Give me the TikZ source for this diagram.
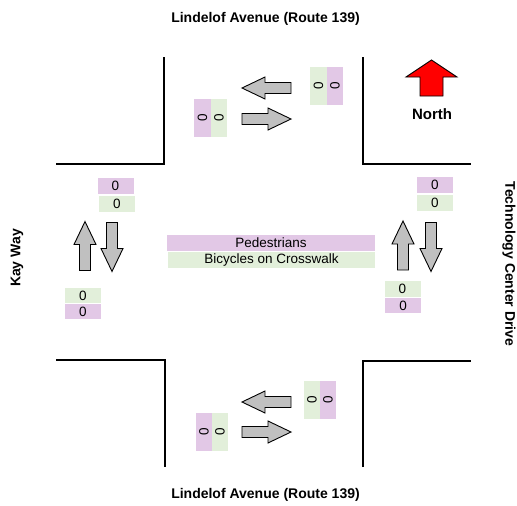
\documentclass[tikz,border=0pt]{standalone}
\usepackage{fontspec}
\setmainfont{Liberation Sans}
\begin{document}
\begin{tikzpicture}[x=1pt,y=-1pt,
  road/.style={line width=2.6pt},
  ped/.style={fill=pedc, inner sep=0pt, font=\fontsize{13.5}{13.5}\selectfont},
  bik/.style={fill=bikc, inner sep=0pt, font=\fontsize{13.5}{13.5}\selectfont},
  vbox/.style={minimum width=38pt, minimum height=16.5pt, rotate=90},
  hbox/.style={minimum width=36pt, minimum height=15.5pt},
  lbl/.style={font=\bfseries\fontsize{14}{14}\selectfont, inner sep=0pt},
  garrow/.pic={\draw[fill=arrgray, line width=0.9pt, line join=miter]
     (-24.5,-5.5) -- (1.5,-5.5) -- (1.5,-11) -- (24.5,0) -- (1.5,11) -- (1.5,5.5) -- (-24.5,5.5) -- cycle;}
]
\definecolor{pedc}{HTML}{E2C8E6}
\definecolor{bikc}{HTML}{E2EFDA}
\definecolor{arrgray}{HTML}{C0C0C0}
\useasboundingbox (0,0) rectangle (517,506);

% roads
\coordinate (tl1) at (56,164); \coordinate (tl2) at (164,164); \coordinate (tl3) at (164,57);
\coordinate (tr1) at (363,57); \coordinate (tr2) at (363,164); \coordinate (tr3) at (471,164);
\coordinate (bl1) at (56,360); \coordinate (bl2) at (165,360); \coordinate (bl3) at (165,467);
\coordinate (br1) at (363,467); \coordinate (br2) at (363,361); \coordinate (br3) at (471,361);
\draw[road] (tl1) -- (tl2) -- (tl3);
\draw[road] (tr1) -- (tr2) -- (tr3);
\draw[road] (bl1) -- (bl2) -- (bl3);
\draw[road] (br1) -- (br2) -- (br3);

% labels
\node[lbl] (ntop) at (265.5,19) {Lindelof Avenue (Route 139)};
\node[lbl] (nbot) at (265.5,495) {Lindelof Avenue (Route 139)};
\node[lbl, rotate=90] (nwest) at (17,258) {Kay Way};
\node[lbl, rotate=-90] (neast) at (509,264) {Technology Center Drive};
\node[lbl, font=\bfseries\fontsize{15}{15}\selectfont] (nnorth) at (432,114) {North};

% north arrow
\draw[fill=red, line width=0.9pt] (420,96) -- (420,77) -- (406,77) -- (431.5,60) -- (457,77) -- (443,77) -- (443,96) -- cycle;

% top boxes
\node[ped, vbox] (t1p) at (202.5,117.5) {0};
\node[bik, vbox] (t1b) at (219,117.5) {0};
\node[bik, vbox] (t2b) at (318.5,86) {0};
\node[ped, vbox] (t2p) at (335,86) {0};
% bottom boxes
\node[ped, vbox] (b1p) at (204,432) {0};
\node[bik, vbox] (b1b) at (220,432) {0};
\node[bik, vbox] (b2b) at (312,400) {0};
\node[ped, vbox] (b2p) at (328,400) {0};
% west boxes
\node[ped, hbox] (w1p) at (115.5,186) {0};
\node[bik, hbox] (w1b) at (117,204) {0};
\node[bik, hbox] (w2b) at (83,295.5) {0};
\node[ped, hbox] (w2p) at (83,311.5) {0};
% east boxes
\node[ped, hbox] (e1p) at (435,185) {0};
\node[bik, hbox] (e1b) at (435,203) {0};
\node[bik, hbox] (e2b) at (402.5,289) {0};
\node[ped, hbox] (e2p) at (403,305.5) {0};
% centre legend
\node[ped, minimum width=208pt, minimum height=16pt] (lp) at (271,243) {Pedestrians};
\node[bik, minimum width=207pt, minimum height=16pt] (lb) at (271.5,260) {Bicycles on Crosswalk};

% arrows
\pic[rotate=180] at (266.5,88) {garrow};
\pic at (266.5,119) {garrow};
\pic[rotate=180] at (266.5,402) {garrow};
\pic at (266.5,432) {garrow};
\pic[rotate=90] at (85,246) {garrow};
\pic[rotate=-90] at (112,247) {garrow};
\pic[rotate=90] at (403,245.5) {garrow};
\pic[rotate=-90] at (431,247) {garrow};
\end{tikzpicture}
\end{document}
